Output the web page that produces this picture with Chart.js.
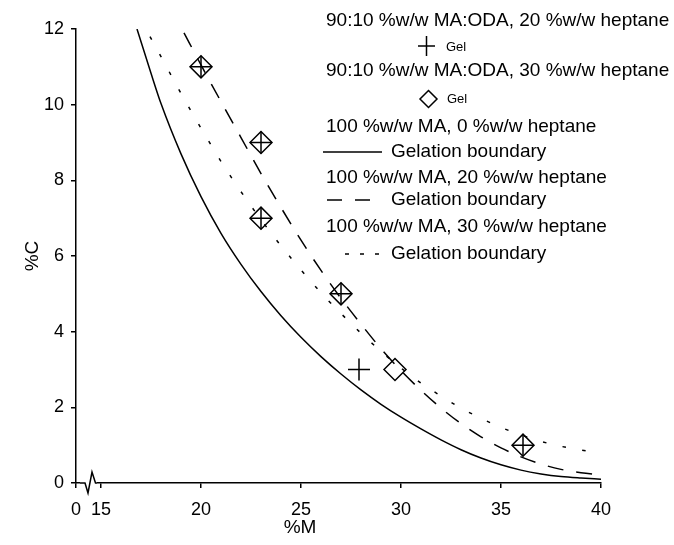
<!DOCTYPE html>
<html>
<head>
<meta charset="utf-8">
<script src="https://cdn.jsdelivr.net/npm/chart.js@4/dist/chart.umd.min.js"></script>
<style>
  body { margin: 0; background: #fff; }
  canvas { display: block; }
</style>
</head>
<body>
<canvas id="gelChart" width="674" height="545"></canvas>
<script>
// ---- data ----
const xTickValues = [13.75, 15, 20, 25, 30, 35, 40];
const xTickLabels = ["0", "15", "20", "25", "30", "35", "40"];

// 100 %w/w MA, 0 %w/w heptane
const boundary0X = [16.8, 17.5, 18, 19, 20, 21, 22, 23, 24, 25, 26, 27, 28, 29, 30, 31, 32, 33, 34, 35, 36, 37, 38, 39, 40];
const boundary0Y = [12, 10.83, 10.03, 8.7, 7.57, 6.6, 5.78, 5.06, 4.42, 3.85, 3.34, 2.88, 2.46, 2.08, 1.74, 1.43, 1.14, 0.88, 0.66, 0.48, 0.34, 0.24, 0.17, 0.13, 0.1];

// 100 %w/w MA, 20 %w/w heptane
const boundary20X = [19.15, 20, 21, 22, 23, 24, 25, 26, 27, 28, 29, 30, 31, 32, 33, 34, 35, 36, 37, 38, 39, 40];
const boundary20Y = [11.9, 11.05, 10.08, 9.13, 8.18, 7.28, 6.42, 5.62, 4.88, 4.2, 3.55, 2.97, 2.45, 1.98, 1.57, 1.22, 0.93, 0.69, 0.5, 0.36, 0.27, 0.22];

// 100 %w/w MA, 30 %w/w heptane
const boundary30X = [17.45, 18, 19, 20, 21, 22, 23, 24, 25, 26, 27, 28, 29, 30, 31, 32, 33, 34, 35, 36, 37, 38, 39, 40];
const boundary30Y = [11.8, 11.27, 10.3, 9.38, 8.5, 7.7, 6.96, 6.27, 5.63, 5.03, 4.48, 3.96, 3.48, 3.04, 2.64, 2.3, 1.98, 1.71, 1.47, 1.27, 1.1, 0.97, 0.87, 0.8];

// 90:10 MA:ODA gel points
const gel20X = [20, 23, 23, 27, 27.9, 36.1];
const gel20Y = [11, 9, 7, 5, 3, 1];
const gel30X = [20, 23, 23, 27, 29.7, 36.1];
const gel30Y = [11, 9, 7, 5, 3, 1];

const FONT = "'Liberation Sans', Arial, sans-serif";

function pts(xs, ys) {
    return xs.map((x, i) => ({ x: x, y: ys[i] }));
}

function curve(xs, ys, dash) {
    return {
        type: "line",
        data: pts(xs, ys),
        borderColor: "#000",
        borderWidth: 1.5,
        borderDash: dash,
        pointRadius: 0,
        cubicInterpolationMode: "monotone",
        fill: false,
    };
}

function markers(xs, ys, style) {
    return {
        type: "scatter",
        data: pts(xs, ys),
        pointStyle: style,
        pointRadius: 11,
        pointBorderColor: "#000",
        pointBackgroundColor: "rgba(0,0,0,0)",
        pointBorderWidth: 1.5,
        showLine: false,
    };
}

// axis break, axis titles and the two-line legend
const decorations = {
    id: "decorations",
    afterDraw(chart) {
        const ctx = chart.ctx;
        const area = chart.chartArea;
        const x0 = area.left;
        const y0 = area.bottom;
        ctx.save();

        // broken x axis
        ctx.fillStyle = "#fff";
        ctx.fillRect(x0 + 4, y0 - 2, 17, 4);
        ctx.strokeStyle = "#000";
        ctx.lineWidth = 1.5;
        ctx.beginPath();
        ctx.moveTo(x0 + 4, y0);
        ctx.lineTo(x0 + 9, y0);
        ctx.lineTo(x0 + 12, y0 + 10);
        ctx.lineTo(x0 + 16, y0 - 11);
        ctx.lineTo(x0 + 19.5, y0);
        ctx.lineTo(x0 + 21, y0);
        ctx.stroke();

        // axis titles
        ctx.fillStyle = "#000";
        ctx.font = "19px " + FONT;
        ctx.textAlign = "center";
        ctx.textBaseline = "middle";
        ctx.fillText("%M", 300, 528);
        ctx.save();
        ctx.translate(33, (area.top + area.bottom) / 2);
        ctx.rotate(-Math.PI / 2);
        ctx.fillText("%C", 0, 0);
        ctx.restore();

        // legend
        ctx.textAlign = "left";
        const big = "19px " + FONT;
        const small = "13px " + FONT;
        const lx = 326;
        ctx.font = big;
        ctx.fillText("90:10 %w/w MA:ODA, 20 %w/w heptane", lx, 21);
        ctx.fillText("90:10 %w/w MA:ODA, 30 %w/w heptane", lx, 71);
        ctx.fillText("100 %w/w MA, 0 %w/w heptane", lx, 127);
        ctx.fillText("Gelation boundary", 391, 152);
        ctx.fillText("100 %w/w MA, 20 %w/w heptane", lx, 178);
        ctx.fillText("Gelation boundary", 391, 200);
        ctx.fillText("100 %w/w MA, 30 %w/w heptane", lx, 227);
        ctx.fillText("Gelation boundary", 391, 254);

        ctx.font = small;
        ctx.fillText("Gel", 446, 47);
        ctx.fillText("Gel", 447, 99);

        ctx.lineWidth = 1.5;
        // plus
        ctx.beginPath();
        ctx.moveTo(418, 46); ctx.lineTo(435, 46);
        ctx.moveTo(426.5, 36); ctx.lineTo(426.5, 56);
        ctx.stroke();
        // diamond
        ctx.beginPath();
        ctx.moveTo(428.5, 90.5); ctx.lineTo(437, 99);
        ctx.lineTo(428.5, 107.5); ctx.lineTo(420, 99);
        ctx.closePath();
        ctx.stroke();
        // solid
        ctx.beginPath();
        ctx.moveTo(323, 152); ctx.lineTo(382, 152);
        ctx.stroke();
        // dashed
        ctx.setLineDash([15, 13]);
        ctx.beginPath();
        ctx.moveTo(327, 200); ctx.lineTo(371, 200);
        ctx.stroke();
        // dotted
        ctx.setLineDash([4, 11]);
        ctx.beginPath();
        ctx.moveTo(345, 254); ctx.lineTo(379, 254);
        ctx.stroke();
        ctx.restore();
    },
};

new Chart(document.getElementById("gelChart"), {
    data: {
        datasets: [
            curve(boundary0X, boundary0Y, []),
            curve(boundary20X, boundary20Y, [16, 13]),
            curve(boundary30X, boundary30Y, [3.5, 16.5]),
            markers(gel20X, gel20Y, "cross"),
            markers(gel30X, gel30Y, "rectRot"),
        ],
    },
    options: {
        responsive: false,
        devicePixelRatio: 1,
        animation: false,
        layout: { padding: { top: 29, right: 73, left: 0, bottom: 0 } },
        plugins: {
            legend: { display: false },
            tooltip: { enabled: false },
        },
        scales: {
            x: {
                type: "linear",
                min: 13.75,
                max: 40,
                afterBuildTicks: (scale) => {
                    scale.ticks = xTickValues.map(v => ({ value: v }));
                },
                afterFit: (scale) => { scale.height = 62; },
                border: { display: true, color: "#000", width: 1.5 },
                grid: { drawOnChartArea: false, drawTicks: true, tickLength: 5, color: "#000", lineWidth: 1.5 },
                ticks: {
                    color: "#000",
                    font: { size: 18, family: FONT },
                    padding: 11,
                    maxRotation: 0,
                    callback: (value) => xTickLabels[xTickValues.indexOf(value)],
                },
            },
            y: {
                type: "linear",
                min: 0,
                max: 12,
                afterFit: (scale) => { scale.width = 76; },
                border: { display: true, color: "#000", width: 1.5 },
                grid: { drawOnChartArea: false, drawTicks: true, tickLength: 5, color: "#000", lineWidth: 1.5 },
                ticks: {
                    stepSize: 2,
                    color: "#000",
                    font: { size: 18, family: FONT },
                    padding: 7,
                },
            },
        },
    },
    plugins: [decorations],
});
</script>
</body>
</html>
